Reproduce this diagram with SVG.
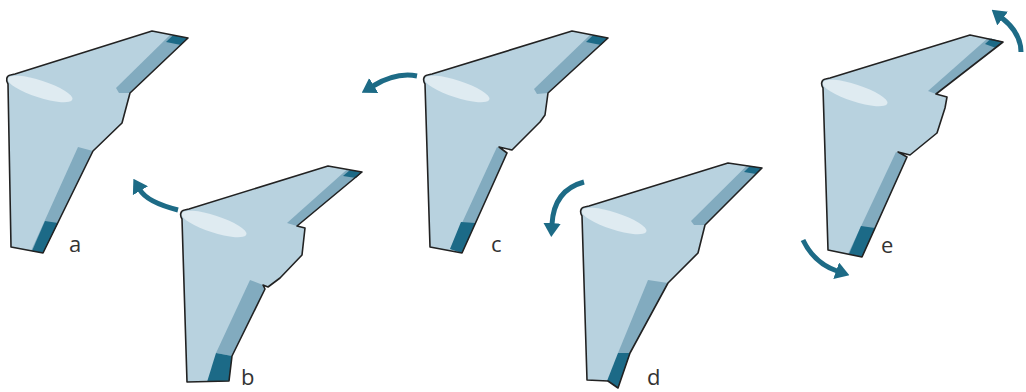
<svg xmlns="http://www.w3.org/2000/svg" xmlns:xlink="http://www.w3.org/1999/xlink" width="1026" height="392" viewBox="0 0 1026 392">
  <style>
    .skin { fill: #b8d2df; stroke: none; }
    .edge { fill: none; stroke: #222; stroke-width: 1.6; stroke-linejoin: round; }
    .flap { fill: #82abbf; }
    .flap-tip { fill: #1c6a87; }
    .shine { fill: #dfebf1; }
    .turn { fill: none; stroke: #1d6b86; stroke-width: 5; stroke-linecap: butt; }
    .tag { font-family: "Open Sans", "Noto Sans", sans-serif; font-size: 22px; fill: #333; }
  </style>
  <defs>
    <marker id="turn-head" viewBox="0 0 8 10" refX="0.5" refY="5" markerWidth="2.8" markerHeight="3.5" orient="auto" markerUnits="strokeWidth">
      <path d="M0,0 L8,5 L0,10 Z" fill="#1d6b86"/>
    </marker>
    <path id="wa-shape" d="M8,84 C5.5,80 6.5,75.5 10.5,75 L15,74 L152,31 L188,38 L130,93 L122,123 L93,151 L43,253 L11,247 Z"/>
    <path id="wb-shape" d="M8,84 C5.5,80 6.5,75.5 10.5,75 L15,74 L154,31 L188,37 L123,91 L131,93 L128,120 L106,143 L94,152 L89,150 L91,154 L58,221 L55,246 L13,247 Z"/>
    <path id="wc-shape" d="M8,84 C5.5,80 6.5,75.5 10.5,75 L15,74 L155,31 L191,38 L131,93 L128,115 L123,122 L95,150 L82,147 L90,153 L45,253 L13,247 Z"/>
    <path id="wd-shape" d="M8,84 C5.5,80 6.5,75.5 10.5,75 L15,74 L154,31 L188,36 L131,93 L124,121 L94,151 L56,221 L44,256 L34,249 L13,248 Z"/>
    <path id="we-shape" d="M8,84 C5.5,80 6.5,75.5 10.5,75 L15,74 L155,31 L188,38 L121,90 L132,93 L130,104 L122,129 L95,151 L83,148 L92,153 L47,253 L13,246 Z"/>
  </defs>

  <!-- wing a: neutral -->
  <g id="wing-a">
    <use xlink:href="#wa-shape" class="skin"/>
    <path class="flap" d="M116,88 L170,35 L188,38 L130,93 L119,93 Z"/>
    <path class="flap-tip" d="M173,35.3 L188,38 L181,45 L166,42 Z"/>
    <path class="flap" d="M78,147 L93,151 L43,253 L31,251 Z"/>
    <path class="flap-tip" d="M45,221 L58,223 L43,253 L32,251 Z"/>
    <ellipse class="shine" cx="40" cy="89" rx="34" ry="8.5" transform="rotate(18 40 89)"/>
    <use xlink:href="#wa-shape" class="edge"/>
    <text class="tag" x="69" y="252">a</text>
  </g>

  <!-- wing b -->
  <g id="wing-b" transform="translate(174,135)">
    <use xlink:href="#wb-shape" class="skin"/>
    <path class="flap" d="M113,88 L173,34.5 L188,37 L123,91 Z"/>
    <path class="flap-tip" d="M176,35 L188,37 L182,43 L169,41 Z"/>
    <path class="flap" d="M76,145 L89,150 L91,154 L58,221 L42,218 Z"/>
    <path class="flap-tip" d="M42,218 L58,221 L55,246 L33,247 Z"/>
    <ellipse class="shine" cx="40" cy="89" rx="34" ry="8.5" transform="rotate(18 40 89)"/>
    <use xlink:href="#wb-shape" class="edge"/>
    <text class="tag" x="67" y="250">b</text>
  </g>

  <!-- wing c -->
  <g id="wing-c" transform="translate(417,0)">
    <use xlink:href="#wc-shape" class="skin"/>
    <path class="flap" d="M117,89 L173,35 L191,38 L131,93 L120,94 Z"/>
    <path class="flap-tip" d="M176,35.3 L191,38 L184,45 L169,42 Z"/>
    <path class="flap" d="M80,147 L90,153 L45,253 L33,249 Z"/>
    <path class="flap-tip" d="M44,222 L58.5,223 L45,253 L33,249 Z"/>
    <ellipse class="shine" cx="40" cy="89" rx="34" ry="8.5" transform="rotate(18 40 89)"/>
    <use xlink:href="#wc-shape" class="edge"/>
    <text class="tag" x="74" y="252">c</text>
  </g>

  <!-- wing d -->
  <g id="wing-d" transform="translate(574,132)">
    <use xlink:href="#wd-shape" class="skin"/>
    <path class="flap" d="M117,89 L173,33.5 L188,36 L131,93 L120,93 Z"/>
    <path class="flap-tip" d="M176,34 L188,36 L182,42 L170,40 Z"/>
    <path class="flap" d="M74,148 L94,151 L56,221 L44,221 Z"/>
    <path class="flap-tip" d="M44,221 L56,221 L44,256 L33,249 Z"/>
    <ellipse class="shine" cx="40" cy="89" rx="34" ry="8.5" transform="rotate(18 40 89)"/>
    <use xlink:href="#wd-shape" class="edge"/>
    <text class="tag" x="73" y="253">d</text>
  </g>

  <!-- wing e -->
  <g id="wing-e" transform="translate(815,4)">
    <use xlink:href="#we-shape" class="skin"/>
    <path class="flap" d="M113,87 L173,34 L188,38 L121,90 Z"/>
    <path class="flap-tip" d="M176,34.5 L188,38 L181,44 L170,40 Z"/>
    <path class="flap" d="M81,148 L92,153 L47,253 L33,250 Z"/>
    <path class="flap-tip" d="M46,222 L60,224 L47,253 L34,250 Z"/>
    <ellipse class="shine" cx="40" cy="89" rx="34" ry="8.5" transform="rotate(18 40 89)"/>
    <use xlink:href="#we-shape" class="edge"/>
    <text class="tag" x="66" y="249">e</text>
  </g>

  <!-- rotation arrows -->
  <g id="connectors">
    <path class="turn" marker-end="url(#turn-head)" d="M178,210 Q147,202 140,190"/>
    <path class="turn" marker-end="url(#turn-head)" d="M417,76 Q396,72 373,86"/>
    <path class="turn" marker-end="url(#turn-head)" d="M584,182 Q554,190 552,224"/>
    <path class="turn" marker-end="url(#turn-head)" d="M1021,52 Q1021,33 1002,18"/>
    <path class="turn" marker-end="url(#turn-head)" d="M803,240 Q814,263 837,271"/>
  </g>
</svg>
